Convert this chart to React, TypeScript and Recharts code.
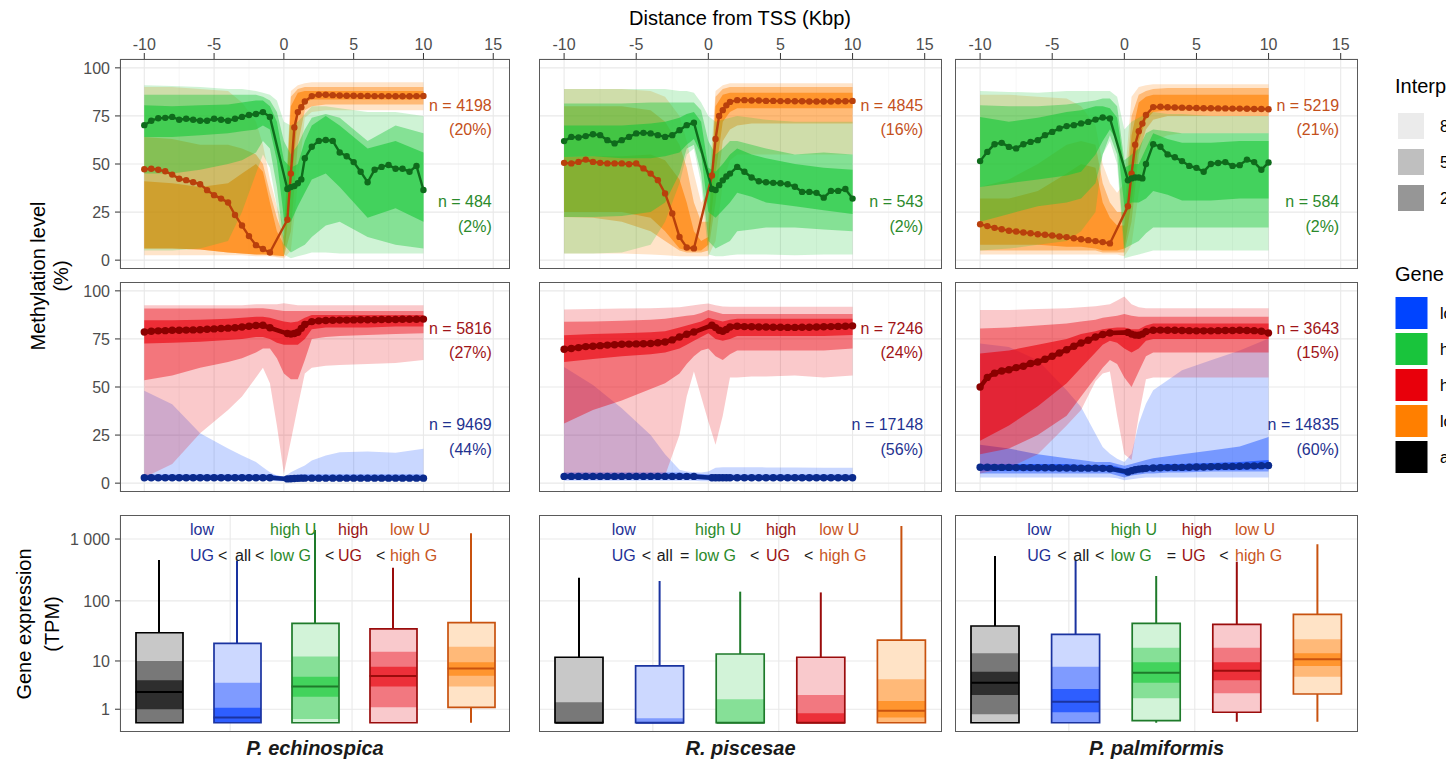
import React from 'react'
import { ComposedChart, Area, Line, Bar, Scatter, Cell, XAxis, YAxis, CartesianGrid } from 'recharts'

const FONT = '"Liberation Sans", Arial, Helvetica, sans-serif'

// distance from TSS (Kbp) of the median points and of the interpercentile ribbons
const X_MED = [-10, -9.5, -9, -8.5, -8, -7.5, -7, -6.5, -6, -5.5, -5, -4.5, -4, -3.5, -3, -2.5, -2, -1.5, -1,
  0.25, 0.5, 0.75, 1, 1.25, 1.5,
  2, 2.5, 3, 3.5, 4, 4.5, 5, 5.5, 6, 6.5, 7, 7.5, 8, 8.5, 9, 9.5, 10]
const X_BAND = [-10, -8, -6, -4, -3, -2, -1.5, -1, -0.5, 0, 0.5, 1, 1.5, 2, 3, 4, 6, 8, 10]

// ---- P. echinospica ----
const ECH_LOWU = {
  med: [47.3, 47.5, 47, 46.2, 44.5, 42.3, 41.6, 40.5, 39.5, 36.4, 33.8, 32, 30, 23.5, 18, 12.5, 7.8, 5.8, 4,
    21, 45, 69, 77, 79.5, 82.5,
    85.3, 86, 86, 85.8, 85.6, 85.5, 85.5, 85.4, 85.4, 85.3, 85.3, 85.3, 85.2, 85.2, 85.2, 85.3, 85.4],
  lo80: [2.5, 2.5, 2.5, 2.5, 2.5, 2, 2, 2, 1.5, 1, 5, 40, 74, 77, 78, 78, 78, 78, 78],
  hi80: [90, 90, 89, 88, 82, 72, 60, 42, 28, 18, 88, 91, 92, 92.5, 92.5, 92.5, 92.5, 92.5, 92.5],
  lo50: [6, 6, 5.5, 4, 3.5, 3, 3, 2.5, 2, 2, 15, 60, 78, 80, 81, 81, 81, 81, 81],
  hi50: [64, 63, 60, 60, 58, 55, 50, 35, 22, 12, 85, 89, 90, 90, 90, 90, 90, 90, 90],
  lo20: [6, 6, 5.5, 4, 3.5, 3, 3, 3, 2.5, 2, 35, 75, 82, 83.5, 83.5, 83.5, 83.5, 83.5, 83.5],
  hi20: [41, 40, 38, 40, 45, 50, 46, 30, 15, 8, 80, 87, 88, 88, 88, 88, 88, 88, 88],
}
const ECH_HIGHU = {
  med: [70.2, 72.5, 73.8, 74, 74.5, 73, 73.5, 73, 72.5, 72.5, 73.5, 73, 72.5, 73.5, 74.5, 75.5, 76, 77, 74.5,
    37, 38, 38.5, 40, 42, 53,
    59, 62, 62.5, 62, 56, 54, 51, 46, 40.5, 47, 48.5, 49.5, 47.5, 47.5, 46, 49, 36.5],
  lo80: [5, 5, 6, 10, 25, 45, 55, 48, 28, 3, 1, 2, 3, 4, 4, 3.5, 3.5, 3.5, 3.5],
  hi80: [91, 90.5, 90, 89, 89, 88, 87, 86, 83, 72, 70, 72, 76, 80, 80, 79, 77, 77, 75],
  lo50: [45, 45, 47, 50, 52, 56, 62, 58, 38, 8, 4, 6, 8, 12, 18, 20, 12, 8, 6],
  hi50: [86, 86, 86, 86, 86, 86, 85, 83, 77, 62, 55, 60, 68, 74, 76, 74, 62, 70, 66],
  lo20: [64, 64, 65, 66, 67, 68, 70, 68, 52, 22, 20, 28, 35, 42, 45, 38, 22, 27, 20],
  hi20: [80.6, 80, 80.5, 81, 82, 83, 83, 80, 72, 52, 48, 50, 62, 70, 75, 70, 58, 62, 56],
}
const ECH_LOWUG = {
  med: [2.8, 2.8, 2.8, 2.8, 2.8, 2.8, 2.8, 2.8, 2.8, 2.8, 2.8, 2.8, 2.8, 2.8, 2.8, 2.8, 2.8, 2.8, 2.8,
    2.2, 2.3, 2.4, 2.5, 2.6, 2.6,
    2.6, 2.6, 2.6, 2.6, 2.6, 2.6, 2.6, 2.6, 2.6, 2.6, 2.6, 2.6, 2.6, 2.6, 2.6, 2.6, 2.6],
  lo80: [1.2, 1.2, 1.2, 1.2, 1.2, 1.2, 1.2, 1.2, 1, 0.8, 1, 1.2, 1.2, 1.2, 1.2, 1.2, 1.2, 1.2, 1.2],
  hi80: [48, 41, 26, 18, 14.4, 11, 8.3, 5.7, 4, 3.2, 5.7, 7.5, 9.2, 11.8, 14.4, 16.1, 16.5, 15.8, 17.9],
  lo50: [1.8, 1.8, 1.8, 1.8, 1.8, 1.8, 1.8, 1.8, 1.5, 1.2, 1.5, 1.8, 1.8, 1.8, 1.8, 1.8, 1.8, 1.8, 1.8],
  hi50: [4.5, 4.5, 4.5, 4.5, 4.5, 4.5, 4.5, 4.5, 4, 3.5, 4, 4.5, 4.5, 4.5, 4.5, 4.5, 4.5, 4.5, 4.5],
  lo20: [2.2, 2.2, 2.2, 2.2, 2.2, 2.2, 2.2, 2.2, 2, 1.8, 2, 2.2, 2.2, 2.2, 2.2, 2.2, 2.2, 2.2, 2.2],
  hi20: [3.6, 3.6, 3.6, 3.6, 3.6, 3.6, 3.6, 3.6, 3.3, 3, 3.3, 3.6, 3.6, 3.6, 3.6, 3.6, 3.6, 3.6, 3.6],
}
const ECH_HIGHUG = {
  med: [78.6, 79, 79.2, 79.3, 79.5, 79.5, 79.6, 79.7, 79.8, 80, 80.2, 80.4, 80.6, 80.8, 81.2, 81.6, 82, 82.1, 80.8,
    77.8, 77.5, 77.8, 78.5, 80.5, 82.5,
    84, 84.4, 84.6, 84.7, 84.8, 84.8, 84.9, 85, 85, 85, 85.1, 85.1, 85.1, 85.2, 85.2, 85.2, 85.3],
  lo80: [3, 10, 26, 38, 45, 55, 60, 52, 30, 5, 22, 40, 57, 60, 61, 61.5, 62, 62.5, 64],
  hi80: [92.5, 92.5, 92.5, 92.5, 92.5, 93, 93, 93, 93, 93.5, 93, 92.5, 92.5, 92.5, 92.5, 92.5, 92.5, 92.5, 92.5],
  lo50: [53.5, 56, 60, 63, 65, 68, 70, 70, 65, 57, 54, 54, 64, 75, 76, 76.5, 77, 77.5, 78],
  hi50: [90.8, 90.8, 90.8, 90.8, 90.8, 91, 91, 90.5, 90, 89.5, 89.5, 89.5, 89.5, 89.5, 89.5, 89.5, 89.5, 89.5, 89.5],
  lo20: [72.6, 73, 73.5, 74.5, 75, 76, 76, 75, 73, 72, 72, 72, 75, 80, 81, 81, 81, 81.5, 81.5],
  hi20: [84.7, 84.7, 85, 85.5, 86, 86.5, 86.5, 86, 85, 84, 83.5, 84, 86, 87.5, 87.5, 87.5, 87.5, 87.5, 87.5],
}

// ---- R. piscesae ----
const PIS_LOWU = {
  med: [50.6, 50.3, 51.1, 52.3, 51.1, 50.6, 50.3, 50.3, 50.3, 49.9, 50.3, 47.7, 45, 41.6, 34.7, 24.3, 12.1, 6.6, 6.1,
    44, 63, 75, 78, 80.5, 82.3,
    83.2, 83.2, 83, 83, 82.8, 82.8, 82.7, 82.7, 82.6, 82.6, 82.5, 82.5, 82.5, 82.5, 82.6, 82.6, 82.8],
  lo80: [3.5, 3.5, 3.5, 3, 2.5, 2, 2, 2, 2, 2, 10, 40, 52, 55, 55, 55, 55, 55, 55],
  hi80: [89, 89, 89, 88, 85, 75, 62, 45, 30, 35, 88, 91, 92, 92, 92, 92, 92, 92, 92],
  lo50: [22.5, 22, 20, 15, 10, 5, 4, 4, 4, 5, 30, 62, 68, 70, 71, 71, 71, 71, 71],
  hi50: [80, 80, 80, 78, 72, 60, 48, 30, 20, 20, 85, 89, 90, 90, 90, 90, 90, 90, 90],
  lo20: [25, 25, 25, 22, 15, 6, 5, 5, 5, 8, 45, 72, 77, 79, 79, 79, 79, 79, 79],
  hi20: [53.7, 54, 54, 55, 52, 42, 30, 15, 10, 12, 80, 86, 87, 87, 87, 87, 87, 87, 87],
}
const PIS_HIGHU = {
  med: [61.9, 64.1, 63.8, 64.5, 65.5, 65, 62.4, 60.7, 62.4, 64.1, 65.9, 66.2, 65.9, 65, 64.1, 65, 67.6, 70.2, 71.5,
    37, 36.5, 39, 41.5, 43.5, 45,
    48.5, 46, 43, 41, 40.5, 40.2, 40, 39.5, 38.2, 35.5, 35.5, 35, 32.5, 36, 36, 37, 32],
  lo80: [3.5, 3.5, 4, 8, 20, 40, 55, 58, 40, 3, 2, 2, 2.5, 3, 3, 3, 2.6, 3, 3],
  hi80: [89, 89, 89, 89, 89, 88, 88, 87, 82, 75, 72, 73, 74, 75, 74, 73, 72, 72, 72],
  lo50: [22.5, 22.5, 23, 25, 30, 45, 58, 60, 45, 10, 6, 8, 10, 15, 16, 17, 17, 16, 15],
  hi50: [81.5, 81.5, 81.5, 82, 82, 82, 82, 82, 78, 62, 55, 58, 62, 62, 60, 58, 55, 56, 55],
  lo20: [53.7, 54, 53, 53, 54, 56, 60, 63, 55, 25, 22, 26, 30, 35, 33, 30, 28, 26, 24],
  hi20: [70, 70, 70, 71, 72, 74, 76, 77, 72, 48, 46, 50, 55, 58, 55, 53, 50, 48, 47],
}
const PIS_LOWUG = {
  med: [3.5, 3.5, 3.5, 3.5, 3.5, 3.5, 3.5, 3.5, 3.5, 3.5, 3.5, 3.5, 3.5, 3.5, 3.5, 3.5, 3.5, 3.5, 3.5,
    2.8, 2.8, 2.8, 2.8, 2.8, 2.8,
    2.8, 2.8, 2.8, 2.8, 2.8, 2.8, 2.8, 2.8, 2.8, 2.8, 2.8, 2.8, 2.8, 2.8, 2.8, 2.8, 2.8],
  lo80: [1.2, 1.2, 1.2, 1.2, 1.2, 1.2, 1.2, 1.2, 1, 1, 1, 1.2, 1.2, 1.2, 1.2, 1.2, 1.2, 1.2, 1.2],
  hi80: [60.4, 51, 39, 25, 15, 7, 6, 5.7, 5.5, 6, 8, 8.3, 8.3, 8.3, 8.3, 8.2, 8.1, 8, 8],
  lo50: [2, 2, 2, 2, 2, 2, 2, 2, 1.8, 1.6, 1.6, 1.8, 1.8, 1.8, 1.8, 1.8, 1.8, 1.8, 1.8],
  hi50: [5.5, 5.5, 5.5, 5.5, 5.5, 5.5, 5.3, 5, 4.8, 4.5, 4.5, 4.5, 4.5, 4.5, 4.5, 4.5, 4.5, 4.5, 4.5],
  lo20: [2.8, 2.8, 2.8, 2.8, 2.8, 2.8, 2.8, 2.7, 2.5, 2.2, 2.2, 2.2, 2.2, 2.2, 2.2, 2.2, 2.2, 2.2, 2.2],
  hi20: [4.2, 4.2, 4.2, 4.2, 4.2, 4.2, 4.2, 4.1, 3.9, 3.6, 3.5, 3.5, 3.5, 3.5, 3.5, 3.5, 3.5, 3.5, 3.5],
}
const PIS_HIGHUG = {
  med: [69.6, 70, 70.5, 71, 71.2, 71.5, 71.8, 72, 72.2, 72.3, 72.4, 72.5, 72.6, 73, 73.4, 74.5, 76, 77.4, 78.6,
    82.1, 80.9, 79.5, 79, 79.9, 81.2,
    81.6, 81.4, 81.3, 81.2, 81.2, 81.1, 81.1, 81, 81, 81.1, 81.1, 81.2, 81.3, 81.4, 81.5, 81.6, 81.8],
  lo80: [2, 2, 2, 3, 4, 25, 45, 58, 45, 32, 20, 35, 55, 55, 55.5, 55.5, 56, 55, 56],
  hi80: [90.3, 90.5, 90.8, 91, 91.2, 91.5, 92, 92.5, 93, 93.4, 92.5, 91.8, 91.7, 91.7, 91.7, 91.7, 91.7, 91.7, 91.7],
  lo50: [31, 38, 43, 49, 52, 57, 62, 66, 69, 70, 66, 64, 67, 69, 69, 69, 69, 69, 70],
  hi50: [83.9, 84, 84.5, 85, 85.5, 86.5, 87, 87.5, 88.5, 90, 89, 88, 88, 88, 88, 88, 88, 88, 88],
  lo20: [63, 64.5, 66, 67, 68, 70, 72, 74, 76, 78, 75, 74, 75, 76.5, 76.5, 76.5, 76.5, 76.5, 77],
  hi20: [76.9, 77.5, 78, 78.5, 79, 81, 82, 83, 84, 86, 85, 84, 85, 85.5, 85.5, 85.5, 85.5, 85.5, 85.5],
}

// ---- P. palmiformis ----
const PAL_LOWU = {
  med: [18.7, 17.7, 16.8, 16.1, 15.3, 14.9, 14.4, 14, 13.5, 13.2, 12.8, 12.3, 12, 11.4, 10.9, 10.4, 9.9, 9.4, 8.7,
    28, 45, 60, 67, 71, 75.5,
    79.6, 79.8, 79.5, 79.4, 79.3, 79.2, 79.1, 79, 79, 78.9, 78.9, 78.8, 78.8, 78.7, 78.6, 78.6, 78.5],
  lo80: [3, 3, 3, 3, 3, 3, 3, 3, 3, 2, 8, 35, 55, 62, 65, 66, 66, 66, 66],
  hi80: [86, 86, 85, 84, 80, 70, 50, 40, 35, 40, 85, 90, 91, 91.5, 91.5, 91.5, 91.5, 91.5, 91.5],
  lo50: [5, 5, 5, 5, 5, 5, 4, 4, 4, 4, 20, 55, 68, 73, 75, 75, 75, 75, 75],
  hi50: [38, 42, 50, 60, 62, 60, 40, 30, 25, 25, 75, 86, 88, 89, 89.5, 89.5, 89.5, 89.5, 89.5],
  lo20: [8, 8, 8, 7, 7, 6, 5, 5, 5, 6, 30, 62, 73, 77, 78, 78, 78, 78, 78],
  hi20: [32, 32, 36, 45, 50, 48, 30, 22, 18, 18, 65, 82, 85, 86, 86, 86, 86, 86, 86],
}
const PAL_HIGHU = {
  med: [51.5, 56.3, 60.3, 61, 58.9, 58.1, 60.3, 61.5, 62.4, 65, 66.7, 68.5, 69.7, 70.2, 71.1, 71.9, 73.1, 74.2, 73.7,
    41.5, 42.5, 43, 43, 42.5, 50,
    60.3, 59, 55, 53.5, 51.5, 49, 48, 46, 50, 50.5, 51, 49, 49.4, 52.3, 51, 47, 50.8],
  lo80: [5, 6, 8, 10, 15, 25, 55, 62, 50, 1, 2, 3, 4, 5, 5, 5, 5, 5, 5],
  hi80: [88, 87.5, 87, 88, 88, 88, 88, 88, 85, 68, 72, 74, 76, 77, 76, 76, 75, 75, 75],
  lo50: [20, 24, 28, 30, 32, 40, 55, 65, 55, 6, 8, 10, 14, 17, 17, 17, 17, 17, 17],
  hi50: [80.6, 80, 80, 81, 82, 83, 84, 84, 80, 52, 55, 58, 66, 68, 67, 66, 66, 66, 66],
  lo20: [38, 40, 42, 44, 46, 55, 62, 68, 62, 28, 30, 30, 32, 36, 34, 31, 31, 32, 32],
  hi20: [74.5, 72, 74, 77, 78, 80, 80, 79, 74, 48, 50, 50, 58, 66, 63, 61, 61, 62, 62],
}
const PAL_LOWUG = {
  med: [8.3, 8.3, 8.2, 8.2, 8.2, 8.1, 8.1, 8.1, 8, 8, 8, 7.9, 7.9, 7.9, 7.8, 7.8, 7.8, 7.7, 7.5,
    5.8, 6.5, 7, 7.3, 7.5, 7.7,
    7.9, 8, 8.1, 8.2, 8.2, 8.3, 8.4, 8.4, 8.5, 8.6, 8.7, 8.7, 8.8, 8.9, 9, 9.1, 9.2],
  lo80: [3, 3, 3, 3, 3, 3, 3, 3, 2.5, 1.5, 2, 2.5, 3, 3, 3, 3, 3, 3, 3],
  hi80: [72.6, 70.8, 63.9, 48.3, 39.6, 25.7, 18.8, 15.3, 12.7, 11, 15.3, 31, 41.3, 48.3, 53.5, 58.7, 63.9, 69, 75.2],
  lo50: [5, 5, 5, 5, 5, 5, 5, 5, 4, 3, 4, 4.5, 5, 5, 5.5, 5.5, 6, 6, 6],
  hi50: [20, 18, 15, 13, 12, 11, 11, 11, 10, 9, 10, 11, 12, 13, 14, 15, 17, 19, 24],
  lo20: [6.5, 6.5, 6.5, 6.5, 6.5, 6.5, 6.5, 6.5, 5.5, 4.5, 5, 5.5, 6, 6.5, 6.5, 6.5, 7, 7, 7.5],
  hi20: [10, 10, 10, 10, 9.5, 9.5, 9.5, 9.5, 8.5, 7.5, 8, 8.5, 9, 9.5, 10, 10, 10.5, 11, 12],
}
const PAL_HIGHUG = {
  med: [50, 55, 57.2, 58.3, 59, 60.1, 60.8, 62.2, 63, 64.4, 66, 67.7, 69.4, 71.2, 72.9, 74.3, 76, 77.3, 78.1,
    78.4, 77.5, 77, 76.9, 77.5, 78.8,
    79.5, 79.6, 79.5, 79.5, 79.4, 79.3, 79.2, 79.2, 79.2, 79.3, 79.4, 79.4, 79.5, 79.4, 79.3, 79, 78.1],
  lo80: [5, 8, 15, 30, 38, 53, 57, 58, 35, 15, 12, 35, 54, 55, 55, 55, 55, 55, 55],
  hi80: [90, 90, 90.5, 91, 91.5, 92, 92.5, 93, 95, 97, 93, 91.5, 91, 91, 91, 91, 91, 91, 91],
  lo50: [15, 18, 25, 35, 45, 55, 60, 64, 62, 55, 50, 58, 66, 68, 68, 68, 68, 68, 68],
  hi50: [80.4, 81, 82, 83, 84, 85, 86, 86.5, 87, 88, 87, 86.5, 86.5, 86.5, 86.5, 86.5, 86.5, 86.5, 86.5],
  lo20: [22, 30, 40, 52, 60, 68, 72, 74, 73, 70, 68, 70, 74, 75, 75, 75, 75, 75, 75],
  hi20: [67.4, 69, 72, 75, 77.5, 79, 80, 80.5, 81, 81, 80, 80, 82, 83, 83, 83, 83, 83, 83],
}

// ---- gene expression (TPM) boxes: all, low UG, high U low G, high UG, low U high G ----
const GROUPS = ['all', 'low UG', 'high U low G', 'high UG', 'low U high G']
const ECH_BOX = [
  { wlo: 0.29, whi: 458, lo: 0.29, hi: 30, m1: 0.29, m2: 10, d1: 1, d2: 4.5, med: 2.6 },
  { wlo: 0.29, whi: 450, lo: 0.29, hi: 20, m1: 0.29, m2: 4, d1: 0.29, d2: 1.1, med: 0.53 },
  { wlo: 0.29, whi: 1400, lo: 0.29, hi: 43, m1: 0.45, m2: 11.9, d1: 2.07, d2: 5.2, med: 3.4 },
  { wlo: 0.29, whi: 344, lo: 0.29, hi: 34.7, m1: 1.13, m2: 14.4, d1: 3.4, d2: 7.9, med: 5.4 },
  { wlo: 0.29, whi: 1240, lo: 1.13, hi: 44, m1: 3.4, m2: 17.6, d1: 5.45, d2: 9.5, med: 7.4 },
]
const PIS_BOX = [
  { wlo: 0.29, whi: 237, lo: 0.29, hi: 11.6, m1: 0.29, m2: 1.53, d1: 0.29, d2: 0.29, med: 0.29 },
  { wlo: 0.29, whi: 210, lo: 0.29, hi: 8.2, m1: 0.29, m2: 0.49, d1: 0.29, d2: 0.29, med: 0.29 },
  { wlo: 0.29, whi: 141, lo: 0.29, hi: 13.2, m1: 0.29, m2: 1.8, d1: 0.29, d2: 0.29, med: 0.29 },
  { wlo: 0.29, whi: 137, lo: 0.29, hi: 11.6, m1: 0.29, m2: 2.25, d1: 0.29, d2: 0.75, med: 0.29 },
  { wlo: 0.29, whi: 1625, lo: 0.29, hi: 22.7, m1: 0.29, m2: 4.7, d1: 0.53, d2: 1.65, med: 0.9 },
]
const PAL_BOX = [
  { wlo: 0.29, whi: 532, lo: 0.29, hi: 38.8, m1: 0.69, m2: 13.6, d1: 2.25, d2: 6.46, med: 4 },
  { wlo: 0.29, whi: 458, lo: 0.29, hi: 28.3, m1: 0.29, m2: 7.9, d1: 0.81, d2: 3, med: 1.58 },
  { wlo: 0.29, whi: 253, lo: 0.38, hi: 43, m1: 1.9, m2: 16.9, d1: 4, d2: 9.5, med: 6.2 },
  { wlo: 0.33, whi: 431, lo: 0.81, hi: 41.4, m1: 2.45, m2: 16.9, d1: 4.5, d2: 9.5, med: 6.7 },
  { wlo: 0.33, whi: 824, lo: 2.37, hi: 60.4, m1: 5.2, m2: 23.4, d1: 8.2, d2: 13.6, med: 10.7 },
]

const X_TICKS = [-10, -5, 0, 5, 10, 15]
const X_MINOR = [-7.5, -2.5, 2.5, 7.5, 12.5]
const Y_TICKS = [0, 25, 50, 75, 100]
const Y_MINOR = [12.5, 37.5, 62.5, 87.5]
const EXPR_TICKS = [1, 10, 100, 1000]
const EXPR_LABELS = ['1', '10', '100', '1 000']
const EXPR_MINOR = [5, 50, 500]
const BOX_GRID_X = [1.13, 2.38, 3.63, 4.88]

const SPECIES = ['P. echinospica', 'R. piscesae', 'P. palmiformis']
const N_TOP = [['n = 4198', '(20%)', 'n = 484', '(2%)'], ['n = 4845', '(16%)', 'n = 543', '(2%)'], ['n = 5219', '(21%)', 'n = 584', '(2%)']]
const N_MID = [['n = 5816', '(27%)', 'n = 9469', '(44%)'], ['n = 7246', '(24%)', 'n = 17148', '(56%)'], ['n = 3643', '(15%)', 'n = 14835', '(60%)']]

// layout
const COLS = [{ x: 120, w: 390 }, { x: 539, w: 403 }, { x: 955, w: 403 }]
const ROWS = [{ y: 59, h: 210 }, { y: 282, h: 210 }, { y: 515, h: 217 }]
const YW = 70
const XH = 40
const X_DOMAIN = [-11.74, 16.2]
const Y_DOMAIN = [-4.6, 104.6]
const EXPR_DOMAIN = [-0.112, 3.388]

const COL = {
  orange: '#ff7f00', green: '#1bc83a', red: '#e8000b', blue: '#0040ff',
  orangeLine: '#b9400c', greenLine: '#0f6b1c', redLine: '#8b0000', blueLine: '#0a2a8c',
  orangeText: '#c4501b', greenText: '#2b8a2b', redText: '#a01418', blueText: '#1f3290',
}
const BOX_LIGHT = ['#c8c8c8', '#ccd8ff', '#d2f3d8', '#f9c9cc', '#ffe3c6']
const BOX_MID = ['#787878', '#7f9bff', '#86e097', '#f27880', '#ffb978']
const BOX_DARK = ['#2e2e2e', '#2e5eff', '#42d35c', '#ec3039', '#ff952e']
const BOX_EDGE = ['#000000', '#1a33a0', '#1e7a2a', '#9a0c0c', '#c8520f']

const tr = (v: number) => Math.log10(v + 0.8)

type Series = { med: number[]; lo80: number[]; hi80: number[]; lo50: number[]; hi50: number[]; lo20: number[]; hi20: number[] }

function profileRows(a: Series, b: Series) {
  const xs = Array.from(new Set([...X_MED, ...X_BAND])).sort((p, q) => p - q)
  const pair = (lo: number[], hi: number[], k: number) => (k < 0 ? [null, null] : [lo[k], hi[k]])
  return xs.map((x) => {
    const m = X_MED.indexOf(x)
    const k = X_BAND.indexOf(x)
    return {
      x,
      aMed: m < 0 ? null : a.med[m],
      bMed: m < 0 ? null : b.med[m],
      a80: pair(a.lo80, a.hi80, k), a50: pair(a.lo50, a.hi50, k), a20: pair(a.lo20, a.hi20, k),
      b80: pair(b.lo80, b.hi80, k), b50: pair(b.lo50, b.hi50, k), b20: pair(b.lo20, b.hi20, k),
    }
  })
}

function boxRows(stats: typeof ECH_BOX) {
  return stats.map((s, i) => ({
    g: GROUPS[i],
    whisk: [tr(s.wlo), tr(s.whi)],
    light: [tr(s.lo), tr(s.hi)],
    mid: [tr(s.m1), tr(s.m2)],
    dark: [tr(s.d1), tr(s.d2)],
    med: tr(s.med),
  }))
}

const tickStyle = { fill: '#4d4d4d', fontSize: 16, fontFamily: FONT }
const ZERO = { top: 0, right: 0, bottom: 0, left: 0 }

function ProfilePanel({ col, row, back, front, backColor, frontColor, backLine, frontLine, dotR, lineW }: any) {
  const c = COLS[col]
  const r = ROWS[row]
  const padL = col === 0 ? YW : 0
  const padT = row === 0 ? XH : 0
  const data = profileRows(back, front)
  const ribbons = (key: string, color: string) =>
    [['80', 0.21], ['50', 0.41], ['20', 0.62]].map(([lvl, op]) => (
      <Area key={key + lvl} dataKey={key + lvl} type="linear" stroke="none" fill={color}
        fillOpacity={op as number} connectNulls isAnimationActive={false} />
    ))
  return (
    <div style={{ position: 'absolute', left: c.x - padL, top: r.y - padT }}>
      <ComposedChart width={c.w + padL} height={r.h + padT} data={data} margin={ZERO}>
        <XAxis xAxisId="minor" dataKey="x" type="number" domain={X_DOMAIN} ticks={X_MINOR} hide />
        <YAxis yAxisId="minor" type="number" domain={Y_DOMAIN} ticks={Y_MINOR} hide />
        <CartesianGrid xAxisId="minor" yAxisId="minor" stroke="#f3f3f3" strokeWidth={0.7} />
        <CartesianGrid stroke="#e9e9e9" strokeWidth={1.1} />
        <XAxis dataKey="x" type="number" domain={X_DOMAIN} ticks={X_TICKS} orientation="top"
          hide={row !== 0} height={XH} interval={0} tick={tickStyle} tickLine={{ stroke: '#333' }}
          axisLine={false} tickSize={6} tickMargin={3} />
        <YAxis type="number" domain={Y_DOMAIN} ticks={Y_TICKS} hide={col !== 0} width={YW}
          interval={0} tick={tickStyle} tickLine={{ stroke: '#333' }} axisLine={false}
          tickSize={5} tickMargin={5} />
        {ribbons('a', backColor)}
        {ribbons('b', frontColor)}
        <Line dataKey="aMed" type="linear" stroke={backLine} strokeWidth={lineW}
          dot={{ r: dotR, fill: backLine, stroke: 'none' }} connectNulls isAnimationActive={false} />
        <Line dataKey="bMed" type="linear" stroke={frontLine} strokeWidth={lineW}
          dot={{ r: dotR, fill: frontLine, stroke: 'none' }} connectNulls isAnimationActive={false} />
      </ComposedChart>
    </div>
  )
}

function BoxPanel({ col, stats }: any) {
  const c = COLS[col]
  const r = ROWS[2]
  const padL = col === 0 ? YW : 0
  const bw = Math.round((c.w / 5) * 0.6)
  const rows = boxRows(stats)
  const layerAxes = ['whisk', 'light', 'mid', 'dark', 'edge', 'med']
  return (
    <div style={{ position: 'absolute', left: c.x - padL, top: r.y }}>
      <ComposedChart width={c.w + padL} height={r.h} data={rows} margin={ZERO}>
        <XAxis xAxisId="grid" type="number" domain={[0.5, 5.5]} ticks={BOX_GRID_X} hide />
        <YAxis yAxisId="minor" type="number" domain={EXPR_DOMAIN} ticks={EXPR_MINOR.map(tr)} hide />
        <CartesianGrid xAxisId="grid" yAxisId="minor" vertical={false} stroke="#f3f3f3" strokeWidth={0.7} />
        <CartesianGrid xAxisId="grid" stroke="#e9e9e9" strokeWidth={1.1} />
        {layerAxes.map((id) => (
          <XAxis key={id} xAxisId={id} dataKey="g" type="category" hide />
        ))}
        <YAxis type="number" domain={EXPR_DOMAIN} ticks={EXPR_TICKS.map(tr)} hide={col !== 0} width={YW}
          interval={0} tick={tickStyle} tickLine={{ stroke: '#333' }} axisLine={false} tickSize={5} tickMargin={5}
          tickFormatter={(v: number) => EXPR_LABELS[EXPR_TICKS.findIndex((t) => Math.abs(tr(t) - v) < 1e-6)]} />
        <Bar xAxisId="whisk" dataKey="whisk" barSize={2} isAnimationActive={false}>
          {rows.map((_, i) => <Cell key={i} fill={BOX_EDGE[i]} />)}
        </Bar>
        <Bar xAxisId="light" dataKey="light" barSize={bw} isAnimationActive={false}>
          {rows.map((_, i) => <Cell key={i} fill={BOX_LIGHT[i]} />)}
        </Bar>
        <Bar xAxisId="mid" dataKey="mid" barSize={bw} isAnimationActive={false}>
          {rows.map((_, i) => <Cell key={i} fill={BOX_MID[i]} />)}
        </Bar>
        <Bar xAxisId="dark" dataKey="dark" barSize={bw} isAnimationActive={false}>
          {rows.map((_, i) => <Cell key={i} fill={BOX_DARK[i]} />)}
        </Bar>
        <Bar xAxisId="edge" dataKey="light" barSize={bw} isAnimationActive={false}>
          {rows.map((_, i) => <Cell key={i} fill="none" stroke={BOX_EDGE[i]} strokeWidth={1.7} />)}
        </Bar>
        <Scatter xAxisId="med" dataKey="med" isAnimationActive={false}
          shape={(p: any) => {
            const i = GROUPS.indexOf(p.payload.g)
            return <line x1={p.cx - bw / 2} x2={p.cx + bw / 2} y1={p.cy} y2={p.cy} stroke={BOX_EDGE[i]} strokeWidth={2} />
          }} />
      </ComposedChart>
    </div>
  )
}

const nRight = (col: number) => COLS[col].x + (COLS[col].w * (15 - X_DOMAIN[0])) / (X_DOMAIN[1] - X_DOMAIN[0]) - 1.5

const ANNOT = [
  {
    top: [['low', 'blue', 190], ['high U', 'green', 270], ['high', 'red', 338], ['low U', 'orange', 390]],
    bottom: [['UG', 'blue', 190], ['<', 'k', 218], ['all', 'k', 235], ['<', 'k', 255], ['low G', 'green', 270],
      ['<', 'k', 325], ['UG', 'red', 338], ['<', 'k', 376], ['high G', 'orange', 390]],
  },
  {
    top: [['low', 'blue', 611.7], ['high U', 'green', 695], ['high', 'red', 766], ['low U', 'orange', 819.3]],
    bottom: [['UG', 'blue', 611.7], ['<', 'k', 641.7], ['all', 'k', 656.7], ['=', 'k', 680], ['low G', 'green', 695],
      ['<', 'k', 750], ['UG', 'red', 766], ['<', 'k', 804], ['high G', 'orange', 819.3]],
  },
  {
    top: [['low', 'blue', 1027.3], ['high U', 'green', 1110.7], ['high', 'red', 1181.7], ['low U', 'orange', 1235]],
    bottom: [['UG', 'blue', 1027.3], ['<', 'k', 1057.3], ['all', 'k', 1073.3], ['<', 'k', 1095], ['low G', 'green', 1110.7],
      ['=', 'k', 1166.7], ['UG', 'red', 1181.7], ['<', 'k', 1219.3], ['high G', 'orange', 1235]],
  },
]
const ANNOT_COLOR: Record<string, string> = {
  blue: '#1f3296', green: '#2b8a2b', red: '#9a1414', orange: '#c8561e', k: '#1a1a1a',
}

function Overlay() {
  return (
    <svg width={1446} height={769} style={{ position: 'absolute', left: 0, top: 0, pointerEvents: 'none' }}
      fontFamily={FONT}>
      {ROWS.map((r, ri) => COLS.map((c, ci) => (
        <rect key={`${ri}-${ci}`} x={c.x + 0.5} y={r.y + 0.5} width={c.w - 1} height={r.h - 1}
          fill="none" stroke="#5a5a5a" strokeWidth={1} />
      )))}
      <text x={740} y={25} fontSize={20} textAnchor="middle" fill="#000">Distance from TSS (Kbp)</text>
      <text transform="translate(38,276) rotate(-90)" fontSize={20} textAnchor="middle" dy="0.35em" fill="#000">Methylation level</text>
      <text transform="translate(61,276) rotate(-90)" fontSize={20} textAnchor="middle" dy="0.35em" fill="#000">(%)</text>
      <text transform="translate(24,624) rotate(-90)" fontSize={20} textAnchor="middle" dy="0.35em" fill="#000">Gene expression</text>
      <text transform="translate(52,624) rotate(-90)" fontSize={20} textAnchor="middle" dy="0.35em" fill="#000">(TPM)</text>
      {SPECIES.map((s, i) => (
        <text key={s} x={COLS[i].x + COLS[i].w / 2} y={755} fontSize={20} fontWeight="bold" fontStyle="italic"
          textAnchor="middle" fill="#1a1a1a">{s}</text>
      ))}
      {N_TOP.map((labels, i) => labels.map((t, j) => (
        <text key={`t${i}${j}`} x={nRight(i)} y={ROWS[0].y + [51.7, 75.5, 148, 172.7][j]} fontSize={16} textAnchor="end"
          fill={j < 2 ? COL.orangeText : COL.greenText}>{t}</text>
      )))}
      {N_MID.map((labels, i) => labels.map((t, j) => (
        <text key={`m${i}${j}`} x={nRight(i)} y={ROWS[1].y + [52, 76.3, 148, 173][j]} fontSize={16} textAnchor="end"
          fill={j < 2 ? COL.redText : COL.blueText}>{t}</text>
      )))}
      {ANNOT.map((a, i) => (
        <g key={`a${i}`} fontSize={16}>
          {a.top.map(([t, cName, x], j) => (
            <text key={`t${j}`} x={x as number} y={535} fill={ANNOT_COLOR[cName as string]}>{t}</text>
          ))}
          {a.bottom.map(([t, cName, x], j) => (
            <text key={`b${j}`} x={x as number} y={561} fill={ANNOT_COLOR[cName as string]}>{t}</text>
          ))}
        </g>
      ))}
      {/* legends (clipped by the right edge, as in the figure) */}
      <text x={1395} y={93} fontSize={20} fill="#000">Interpercentile range</text>
      {[['#ebebeb', '80%'], ['#bfbfbf', '50%'], ['#969696', '20%']].map(([f, t], i) => (
        <g key={t}>
          <rect x={1397.5} y={112.5 + i * 36} width={27} height={27} fill={f} stroke="#fff" />
          <text x={1440} y={131.5 + i * 36} fontSize={16} fill="#000">{t}</text>
        </g>
      ))}
      <text x={1395} y={280.5} fontSize={20} fill="#000">Gene category</text>
      {[['#0044ff', 'low UG'], ['#19c43c', 'high U low G'], ['#e8000b', 'high UG'], ['#ff7f00', 'low U high G'], ['#000000', 'all']].map(([f, t], i) => (
        <g key={t}>
          <rect x={1395} y={296.5 + i * 36} width={33} height={33} fill={f} stroke="#fff" />
          <text x={1440} y={318.5 + i * 36} fontSize={16} fill="#000">{t}</text>
        </g>
      ))}
    </svg>
  )
}

export default function App() {
  const top = [[ECH_LOWU, ECH_HIGHU], [PIS_LOWU, PIS_HIGHU], [PAL_LOWU, PAL_HIGHU]]
  const mid = [[ECH_LOWUG, ECH_HIGHUG], [PIS_LOWUG, PIS_HIGHUG], [PAL_LOWUG, PAL_HIGHUG]]
  const boxes = [ECH_BOX, PIS_BOX, PAL_BOX]
  return (
    <div style={{ position: 'absolute', left: 0, top: 0, width: 1446, height: 769, overflow: 'hidden', background: '#fff', fontFamily: FONT }}>
      {[0, 1, 2].map((col) => (
        <React.Fragment key={col}>
          <ProfilePanel col={col} row={0} back={top[col][0]} front={top[col][1]}
            backColor={COL.orange} frontColor={COL.green} backLine={COL.orangeLine} frontLine={COL.greenLine}
            dotR={3.2} lineW={2.4} />
          <ProfilePanel col={col} row={1} back={mid[col][0]} front={mid[col][1]}
            backColor={COL.blue} frontColor={COL.red} backLine={COL.blueLine} frontLine={COL.redLine}
            dotR={3.7} lineW={4.5} />
          <BoxPanel col={col} stats={boxes[col]} />
        </React.Fragment>
      ))}
      <Overlay />
    </div>
  )
}
